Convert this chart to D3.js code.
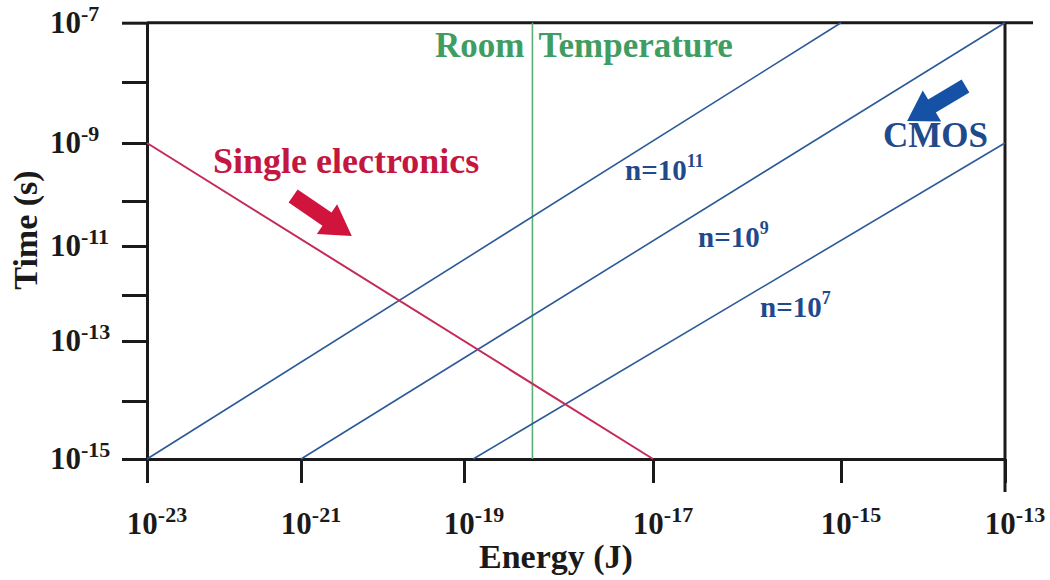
<!DOCTYPE html>
<html>
<head>
<meta charset="utf-8">
<script src="https://cdn.jsdelivr.net/npm/d3@7"></script>
<style>
  body { margin: 0; background: #fff; }
  svg { display: block; }
</style>
</head>
<body>
<svg id="chart" width="1050" height="580" font-family="'Liberation Serif', 'Times New Roman', 'DejaVu Serif', serif"></svg>
<script>
// ---- data -------------------------------------------------------------
// Energy decades on the horizontal axis (J)
const energyTicks = [1e-23, 1e-21, 1e-19, 1e-17, 1e-15, 1e-13];
// Time decades on the vertical axis (s); every second one is labelled
const timeTicks = [1e-15, 1e-14, 1e-13, 1e-12, 1e-11, 1e-10, 1e-9, 1e-8, 1e-7];
const timeLabelTicks = [1e-15, 1e-13, 1e-11, 1e-9, 1e-7];

// Single-electronics limit, [energy, time] end points
const singleElectronics = [[1e-23, 1e-9], [1e-17, 1e-15]];

// CMOS lines for n devices, [energy, time] end points
const cmosExponents = ["11", "9", "7"];
const cmosN11 = [[1e-23, 1e-15], [1e-15, 1e-7]];
const cmosN9  = [[1e-21, 1e-15], [1e-13, 1e-7]];
const cmosN7  = [[1.25e-19, 1e-15], [1e-13, 1e-9]];
const cmosLines = [cmosN11, cmosN9, cmosN7];

// Thermal energy at room temperature (J)
const roomTemperatureEnergy = 5.3e-19;

// Annotation arrows, [tail, tip] in [energy, time]
const electronicsArrow = [[7.9e-22, 1.22e-10], [4.2e-21, 1.67e-11]];
const cmosArrow = [[3.3e-14, 8.6e-9], [6.4e-15, 2.3e-9]];

// ---- scales -----------------------------------------------------------
// The printed axis spaces its decades slightly unevenly, so both log
// scales are piecewise across the tick decades.
const x = d3.scaleLog()
  .domain(energyTicks)
  .range([147, 301, 464, 653, 841, 1005]);
const y = d3.scaleLog()
  .domain(timeTicks)
  .range([459, 401, 341, 295, 246, 201, 143, 82, 22.7]);

const svg = d3.select("#chart");
const ink = "#1a1a1a";
const red = "#c4173f";
const blue = "#2c5a98";
const navy = "#1f4a8c";
const green = "#3f9d62";

// ---- axes -------------------------------------------------------------
const xAxis = svg.append("g")
  .attr("transform", `translate(0,${y(1e-15)})`)
  .call(d3.axisBottom(x).tickValues(energyTicks).tickSize(24).tickSizeOuter(0).tickFormat(""));
const yAxis = svg.append("g")
  .attr("transform", `translate(${x(1e-23)},0)`)
  .call(d3.axisLeft(y).tickValues(timeTicks).tickSize(25).tickSizeOuter(0).tickFormat(""));
[xAxis, yAxis].forEach(g => {
  g.attr("font-family", null);
  g.selectAll("path.domain").attr("stroke", ink).attr("stroke-width", 3);
  g.selectAll(".tick line").attr("stroke", ink).attr("stroke-width", 3);
});

// top rule and right edge of the frame
svg.append("line")
  .attr("x1", x(1e-23)).attr("x2", x(1e-13) + 28)
  .attr("y1", y(1e-7)).attr("y2", y(1e-7))
  .attr("stroke", ink).attr("stroke-width", 3);
svg.append("line")
  .attr("x1", x(1e-13)).attr("x2", x(1e-13))
  .attr("y1", y(1e-7)).attr("y2", y(1e-15) + 33)
  .attr("stroke", ink).attr("stroke-width", 3);

// power-of-ten tick labels
function powerLabel(sel, exp) {
  sel.append("tspan").text("10");
  sel.append("tspan").attr("dy", -12).attr("font-size", 22).text("-" + exp);
}
energyTicks.forEach(v => {
  const t = svg.append("text")
    .attr("x", x(v) + 10).attr("y", 534)
    .attr("text-anchor", "middle")
    .attr("font-size", 31).attr("font-weight", "bold").attr("fill", ink);
  powerLabel(t, Math.round(-Math.log10(v)));
});
timeLabelTicks.forEach(v => {
  const t = svg.append("text")
    .attr("x", 50).attr("y", y(v) + 10)
    .attr("font-size", 31).attr("font-weight", "bold").attr("fill", ink);
  powerLabel(t, Math.round(-Math.log10(v)));
});

// axis titles
svg.append("text")
  .attr("x", 556).attr("y", 568)
  .attr("text-anchor", "middle")
  .attr("font-size", 34).attr("font-weight", "bold").attr("fill", ink)
  .text("Energy (J)");
svg.append("text")
  .attr("transform", "translate(37,230) rotate(-90)")
  .attr("text-anchor", "middle")
  .attr("font-size", 34).attr("font-weight", "bold").attr("fill", ink)
  .text("Time (s)");

// ---- lines ------------------------------------------------------------
const line = d3.line().x(d => x(d[0])).y(d => y(d[1]));

svg.append("line")
  .attr("x1", x(roomTemperatureEnergy)).attr("x2", x(roomTemperatureEnergy))
  .attr("y1", y(1e-7)).attr("y2", y(1e-15))
  .attr("stroke", "#5aae78").attr("stroke-width", 1.6);

svg.selectAll("path.cmos")
  .data(cmosLines)
  .join("path")
  .attr("class", "cmos")
  .attr("d", line)
  .attr("fill", "none").attr("stroke", blue).attr("stroke-width", 1.6);

svg.append("path")
  .attr("d", line(singleElectronics))
  .attr("fill", "none").attr("stroke", "#c42a55").attr("stroke-width", 2);

// ---- annotations ------------------------------------------------------
function blockArrow(pts, shaft, head, headLen) {
  const [x0, y0] = [x(pts[0][0]), y(pts[0][1])];
  const [x1, y1] = [x(pts[1][0]), y(pts[1][1])];
  const len = Math.hypot(x1 - x0, y1 - y0);
  const ux = (x1 - x0) / len, uy = (y1 - y0) / len;
  const nx = -uy, ny = ux;
  const bx = x1 - ux * headLen, by = y1 - uy * headLen;
  const p = [
    [x0 + nx * shaft, y0 + ny * shaft],
    [bx + nx * shaft, by + ny * shaft],
    [bx + nx * head, by + ny * head],
    [x1, y1],
    [bx - nx * head, by - ny * head],
    [bx - nx * shaft, by - ny * shaft],
    [x0 - nx * shaft, y0 - ny * shaft]
  ];
  return "M" + p.map(q => q.join(",")).join("L") + "Z";
}
svg.append("path").attr("d", blockArrow(electronicsArrow, 8, 18, 30)).attr("fill", "#d0143c");
svg.append("path").attr("d", blockArrow(cmosArrow, 7.5, 18, 29)).attr("fill", "#1552a6");

svg.append("text")
  .attr("x", 213).attr("y", 173)
  .attr("font-size", 36).attr("font-weight", "bold").attr("fill", red)
  .text("Single electronics");

svg.append("text")
  .attr("x", x(roomTemperatureEnergy) - 8).attr("y", 57)
  .attr("text-anchor", "end")
  .attr("font-size", 35).attr("font-weight", "bold").attr("fill", green)
  .text("Room");
svg.append("text")
  .attr("x", x(roomTemperatureEnergy) + 6).attr("y", 57)
  .attr("font-size", 35).attr("font-weight", "bold").attr("fill", green)
  .text("Temperature");

svg.append("text")
  .attr("x", 883).attr("y", 147)
  .attr("font-size", 35).attr("font-weight", "bold").attr("fill", navy)
  .text("CMOS");

const nLabelPos = [[625, 180], [698, 247], [760, 317]];
cmosExponents.forEach((e, i) => {
  const t = svg.append("text")
    .attr("x", nLabelPos[i][0]).attr("y", nLabelPos[i][1])
    .attr("font-size", 29).attr("font-weight", "bold").attr("fill", navy);
  t.append("tspan").text("n=10");
  t.append("tspan").attr("dy", -13).attr("font-size", 18).text(e);
});
</script>
</body>
</html>
